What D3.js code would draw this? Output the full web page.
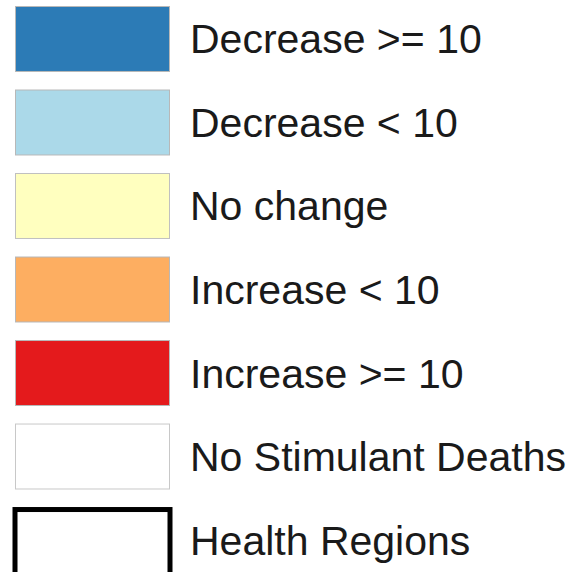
<!DOCTYPE html>
<html>
<head>
<meta charset="utf-8">
<script src="https://cdn.jsdelivr.net/npm/d3@7"></script>
<style>
html,body{margin:0;padding:0;background:#fff;}
svg{display:block;}
</style>
</head>
<body>
<svg id="chart" width="578" height="572"></svg>
<script>
const labels = ["Decrease >= 10","Decrease < 10","No change","Increase < 10","Increase >= 10","No Stimulant Deaths","Health Regions"];
const fills = ["#2c7bb6","#abd9e9","#ffffbf","#fdae61","#e41a1c","#ffffff","#ffffff"];
const strokes = ["#b8b8b8","#b8b8b8","#c0c0c0","#b8b8b8","#b8b8b8","#c8c8c8","#000000"];
const strokeWidths = [1,1,1,1,1,1,5];

const svg = d3.select("#chart");
const y = d3.scaleBand().domain(labels).range([6, 573]).paddingInner(0.21).paddingOuter(0);
const x0 = 15, sw = 155;

const rows = svg.selectAll("g.row").data(labels).join("g").attr("class","row");
rows.append("rect")
  .attr("x", (d,i) => x0 + (strokeWidths[i] > 1 ? 0 : 0.5))
  .attr("y", (d,i) => y(d) + (strokeWidths[i] > 1 ? 2.5 : 0.5))
  .attr("width", (d,i) => sw - (strokeWidths[i] > 1 ? 0 : 1))
  .attr("height", (d,i) => y.bandwidth() - (strokeWidths[i] > 1 ? 0 : 1))
  .attr("fill", (d,i) => fills[i])
  .attr("stroke", (d,i) => strokes[i])
  .attr("stroke-width", (d,i) => strokeWidths[i]);
rows.append("text")
  .attr("x", 190)
  .attr("y", d => y(d) + y.bandwidth()/2 + 14.5)
  .attr("font-family", "'Liberation Sans', Arial, sans-serif")
  .attr("font-size", 41)
  .attr("fill", "#1a1a1a")
  .text(d => d);
</script>
</body>
</html>
